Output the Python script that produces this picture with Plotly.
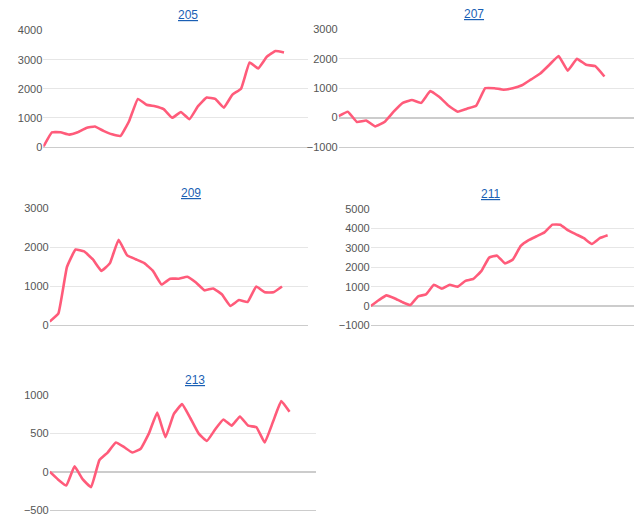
import plotly.graph_objects as go

titles = ["205", "207", "209", "211", "213"]
s205 = [0, 500, 500, 420, 500, 650, 700, 550, 430, 380, 900, 1650, 1450, 1400, 1300, 1000, 1200, 950, 1400, 1700, 1650, 1350, 1800, 2000, 2900, 2700, 3100, 3300, 3250]
s207 = [50, 200, -150, -100, -300, -150, 200, 500, 600, 500, 900, 700, 400, 200, 300, 400, 1000, 1000, 950, 1000, 1100, 1300, 1500, 1800, 2100, 1600, 2000, 1800, 1750, 1400]
s209 = [100, 300, 1500, 1950, 1900, 1700, 1400, 1600, 2200, 1800, 1700, 1600, 1400, 1050, 1200, 1200, 1250, 1100, 900, 950, 800, 500, 650, 600, 1000, 850, 850, 1000]
s211 = [0, 300, 550, 400, 200, 50, 500, 600, 1100, 900, 1100, 1000, 1300, 1400, 1800, 2500, 2600, 2200, 2400, 3100, 3400, 3600, 3800, 4200, 4200, 3900, 3700, 3500, 3200, 3500, 3650]
s213 = [0, -100, -180, 70, -100, -200, 150, 250, 380, 320, 250, 300, 500, 770, 450, 750, 880, 700, 500, 400, 550, 680, 600, 720, 600, 580, 380, 650, 920, 780]
series = [s205, s207, s209, s211, s213]
yranges = [[0, 4000], [-1000, 3000], [0, 3000], [-1000, 5000], [-500, 1000]]
ydticks = [1000, 1000, 1000, 1000, 500]
xdom = [[0.065, 0.467], [0.527, 0.975], [0.075, 0.467], [0.577, 0.975], [0.075, 0.48]]
xdom = [[a - 0.01, b] for a, b in xdom[:1]] + [[xdom[1][0] - 0.012, xdom[1][1]]] + [[xdom[2][0] - 0.01, xdom[2][1]]] + [[xdom[3][0] - 0.012, xdom[3][1]]] + [[xdom[4][0] - 0.01, xdom[4][1]]]
ydom = [[0.744, 0.968], [0.744, 0.970], [0.400, 0.625], [0.400, 0.624], [0.044, 0.266]]
xfill = [0.91, 0.9, 0.9, 0.9, 0.9]

fig = go.Figure()
for i, s in enumerate(series):
    n = "" if i == 0 else str(i + 1)
    fig.add_trace(go.Scatter(x=list(range(len(s))), y=s, mode="lines",
                             line=dict(color="#ff5b7a", width=2.6, shape="spline", smoothing=0.3),
                             xaxis="x" + n, yaxis="y" + n, showlegend=False))
    fig.layout["xaxis" + n] = dict(domain=xdom[i], anchor="y" + n, showticklabels=False,
                                   showgrid=False, zeroline=False, showline=True, linecolor="#cccccc",
                                   range=[0, (len(s) - 1) / xfill[i]], ticks="")
    fig.layout["yaxis" + n] = dict(domain=ydom[i], anchor="x" + n, range=yranges[i], dtick=ydticks[i],
                                   gridcolor="#e6e6e6", zeroline=True, zerolinecolor="#cccccc",
                                   tickfont=dict(size=11, color="#555"), ticks="")
    fig.add_annotation(text="<u>" + titles[i] + "</u>", xref="paper", yref="paper",
                       x=(xdom[i][0] + xdom[i][1]) / 2, y=ydom[i][1] + 0.012, yanchor="bottom",
                       showarrow=False, font=dict(size=12, color="#1a5fb4"))

fig.update_layout(width=642, height=531, margin=dict(l=0, r=0, t=0, b=0),
                  paper_bgcolor="white", plot_bgcolor="white",
                  font=dict(family="Liberation Sans, Arial"))
fig.write_html("out.html")
